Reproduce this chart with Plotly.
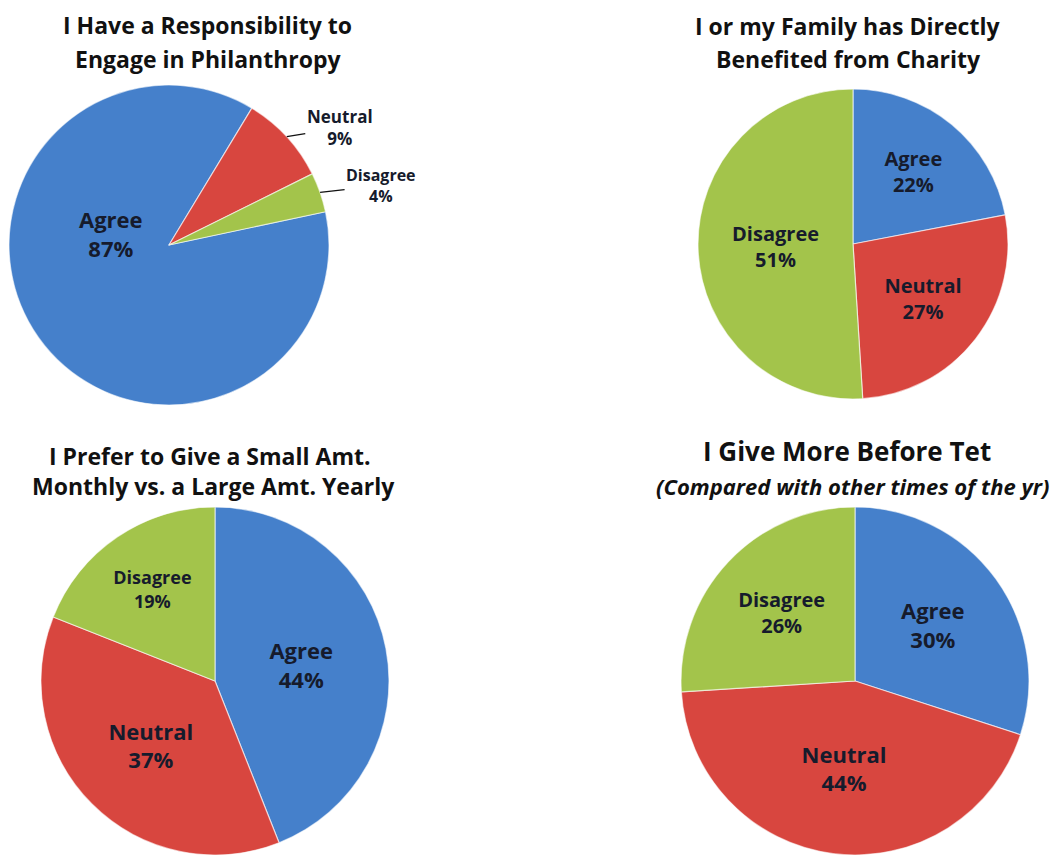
import math
import plotly.graph_objects as go

W, H = 1062, 855

labels = ["Agree", "Neutral", "Disagree"]
colors = ["#4580CB", "#D8463F", "#A3C44B"]

title1 = ["I Have a Responsibility to", "Engage in Philanthropy"]
title2 = ["I or my Family has Directly", "Benefited from Charity"]
title3 = ["I Prefer to Give a Small Amt.", "Monthly vs. a Large Amt. Yearly"]
title4 = "I Give More Before Tet"
subtitle4 = "(Compared with other times of the yr)"

responsibility = [87, 9, 4]
benefited = [22, 27, 51]
small_monthly = [44, 37, 19]
before_tet = [30, 44, 26]

FONT = "'Open Sans', 'Noto Sans', sans-serif"
TXT = "#161B2C"
TITLE_C = "#111111"


def px_dom(x0, x1, y0, y1):
    return dict(x=[x0 / W, x1 / W], y=[1 - y1 / H, 1 - y0 / H])


fig = go.Figure()


def add_pie(values, box, rotation, sizes, show_text=True):
    if show_text:
        kw = dict(texttemplate="<b>%{label}<br>%{value}%</b>",
                  textposition="inside",
                  insidetextorientation="horizontal",
                  textfont=dict(family=FONT, size=sizes, color=TXT))
    else:
        kw = dict(textinfo="none")
    fig.add_trace(go.Pie(
        labels=labels,
        values=values,
        sort=False,
        direction="clockwise",
        rotation=rotation,
        domain=px_dom(*box),
        marker=dict(colors=colors, line=dict(color="rgba(255,255,255,0.6)", width=1.2)),
        showlegend=False,
        hoverinfo="label+value",
        **kw,
    ))


# pie 1: labels drawn as annotations (with leader lines for the small slices)
P1_BOX = (9, 329, 85, 405)
P1_ROT = 78
add_pie(responsibility, P1_BOX, P1_ROT, 22, show_text=False)
add_pie(benefited, (698, 1008, 89, 399), 0, [20, 20, 20])
add_pie(small_monthly, (38, 392, 507, 855), 0, [22, 22, 18])
add_pie(before_tet, (680, 1030, 507, 855), 0, [22, 22, 20])

# geometry of pie 1 (pixels), used to anchor label leader lines on slice edges
cx = (P1_BOX[0] + P1_BOX[1]) / 2
cy = (P1_BOX[2] + P1_BOX[3]) / 2
r = (P1_BOX[1] - P1_BOX[0]) / 2
total = sum(responsibility)
start = P1_ROT
mids = []
for v in responsibility:
    span = v / total * 360
    mids.append(start + span / 2)
    start += span


def edge_point(angle_deg, frac=1.0):
    a = math.radians(angle_deg)
    return cx + frac * r * math.sin(a), cy - frac * r * math.cos(a)


def lab(i):
    return "<b>%s<br>%d%%</b>" % (labels[i], responsibility[i])


# Agree label inside the big slice
fig.add_annotation(x=111 / W, y=1 - 233 / H, xref="paper", yref="paper",
                   xanchor="center", yanchor="middle",
                   text=lab(0), showarrow=False,
                   font=dict(family=FONT, size=22, color=TXT))
# Neutral / Disagree labels outside with leader lines
offsets = {1: (53, -9, 17), 2: (61, -7, 16)}
for i, (ax, ay, s) in offsets.items():
    ex, ey = edge_point(mids[i])
    fig.add_annotation(x=ex / W, y=1 - ey / H, xref="paper", yref="paper",
                       text=lab(i), showarrow=True, arrowhead=0, arrowwidth=1.3,
                       arrowcolor="#111111", ax=ax, ay=ay, standoff=0,
                       font=dict(family=FONT, size=s, color=TXT))

titles = [
    (title1[0], 207, 25, 23, False),
    (title1[1], 208, 59, 23, False),
    (title2[0], 847, 26, 23, False),
    (title2[1], 848, 59, 23, False),
    (title3[0], 210, 456, 23, False),
    (title3[1], 213, 486, 23, False),
    (title4, 847, 451, 26, False),
    (subtitle4, 853, 486, 22, True),
]
for text, x, y, s, it in titles:
    t = "<b>" + text + "</b>"
    if it:
        t = "<i>" + t + "</i>"
    fig.add_annotation(
        x=x / W, y=1 - y / H, xref="paper", yref="paper",
        text=t, showarrow=False, xanchor="center", yanchor="middle",
        font=dict(family=FONT, size=s, color=TITLE_C),
    )

fig.update_layout(
    width=W, height=H,
    margin=dict(l=0, r=0, t=0, b=0),
    paper_bgcolor="white",
    plot_bgcolor="white",
)

fig.write_html("out.html", config={"displayModeBar": False},
               post_script="document.body.style.margin='0px';")
